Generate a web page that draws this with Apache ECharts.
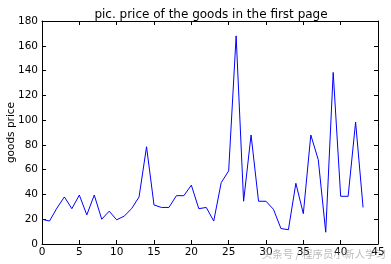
<!DOCTYPE html>
<html><head><meta charset="utf-8">
<script src="https://cdn.jsdelivr.net/npm/echarts@6/dist/echarts.min.js"></script>
<style>html,body{margin:0;padding:0;background:#fff}#c{width:391px;height:264px}</style>
</head><body><div id="c"></div>
<script>
var titleText = 'pic. price of the goods in the first page';
var yName = 'goods price';
var watermark = '头条号 / 程序员小新人学习';
var xIndex = [0,1,2,3,4,5,6,7,8,9,10,11,12,13,14,15,16,17,18,19,20,21,22,23,24,25,26,27,28,29,30,31,32,33,34,35,36,37,38,39,40,41,42,43];
var prices = [20,18.5,29,38,28.5,39.5,23.5,39.5,20,26.5,19.5,22.5,28.5,38,78.5,31.5,29.5,29.5,39,39,47.5,28.5,29.5,18.5,49.5,59,168,34.5,88,34.5,34.5,28,12.5,11.5,49,24.5,88,68,9.5,138.5,38.5,38.5,98.5,29.5];
var data = xIndex.map(function(x,i){return [x, prices[i]];});
var font = 'DejaVu Sans';
var chart = echarts.init(document.getElementById('c'));
var tickStyle = {show:true, inside:true, length:4, lineStyle:{color:'#000', width:1}};
chart.setOption({
  animation:false,
  title:{text:titleText, left:206, top:4, textAlign:'center',
    textStyle:{fontFamily:font, fontSize:12, fontWeight:'normal', color:'#000'}},
  grid:{left:42, right:13, top:21, bottom:20, containLabel:false, outerBoundsMode:'none'},
  graphic:[{type:'text', right:5, top:249, style:{text:watermark, fill:'rgba(150,150,150,0.65)', font:'10.5px "Noto Sans CJK SC"'}, z:100}],
  xAxis:[
    {type:'value', min:0, max:45, interval:5, position:'bottom',
     axisLine:{show:true,onZero:false,lineStyle:{color:'#000',width:1}},
     axisTick:tickStyle, splitLine:{show:false},
     axisLabel:{fontFamily:font, fontSize:10.5, color:'#000', margin:3}},
    {type:'value', min:0, max:45, interval:5, position:'top',
     axisLine:{show:true,onZero:false,lineStyle:{color:'#000',width:1}},
     axisTick:tickStyle, splitLine:{show:false}, axisLabel:{show:false}}
  ],
  yAxis:[
    {type:'value', min:0, max:180, interval:20, position:'left',
     name:yName, nameLocation:'middle', nameGap:25, nameRotate:90, nameMoveOverlap:false,
     nameTextStyle:{fontFamily:font, fontSize:10.5, color:'#000'},
     axisLine:{show:true,onZero:false,lineStyle:{color:'#000',width:1}},
     axisTick:tickStyle, splitLine:{show:false},
     axisLabel:{fontFamily:font, fontSize:10.5, color:'#000', margin:4}},
    {type:'value', min:0, max:180, interval:20, position:'right',
     axisLine:{show:true,onZero:false,lineStyle:{color:'#000',width:1}},
     axisTick:tickStyle, splitLine:{show:false}, axisLabel:{show:false}}
  ],
  series:[{type:'line', data:data, xAxisIndex:0, yAxisIndex:0, showSymbol:false, symbol:'none',
    lineStyle:{color:'#0000ff', width:1}}]
});
</script></body></html>
